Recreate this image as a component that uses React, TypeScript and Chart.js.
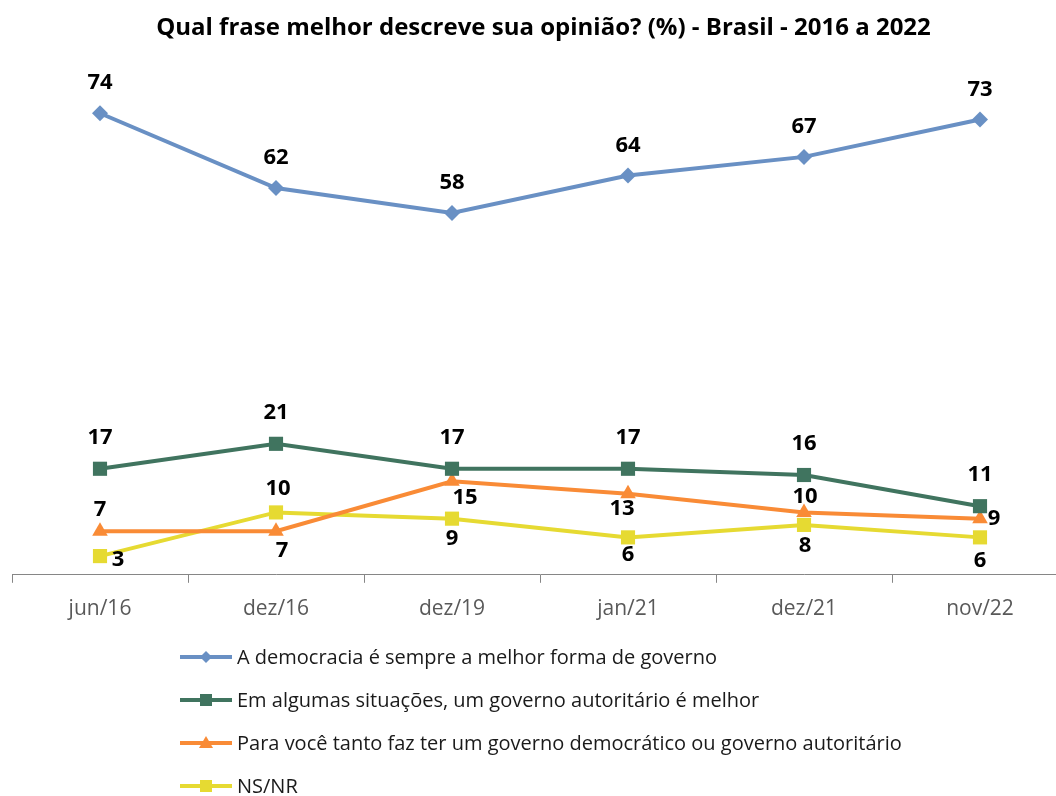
import React, { useEffect, useRef } from "react";
import { Chart, registerables } from "chart.js";

Chart.register(...registerables);

const chartTitle = "Qual frase melhor descreve sua opinião? (%) - Brasil - 2016 a 2022";
const categories = ["jun/16", "dez/16", "dez/19", "jan/21", "dez/21", "nov/22"];
const seriesNames = [
  "A democracia é sempre a melhor forma de governo",
  "Em algumas situações, um governo autoritário é melhor",
  "Para você tanto faz ter um governo democrático ou governo autoritário",
  "NS/NR",
];
const democracia = [74, 62, 58, 64, 67, 73];
const autoritario = [17, 21, 17, 17, 16, 11];
const tantoFaz = [7, 7, 15, 13, 10, 9];
const nsnr = [3, 10, 9, 6, 8, 6];
const yMin = 0;
const yMax = 80;

// label offsets (dx, dy) relative to each point
const offDemocracia = [[0, -30], [0, -30], [0, -30], [0, -30], [0, -30], [0, -30]];
const offAutoritario = [[0, -31], [0, -31], [0, -31], [0, -31], [0, -31], [0, -31]];
const offTantoFaz = [[0, -21], [6, 20], [13, 16], [-6, 15], [1, -16], [14, 0]];
const offNsnr = [[18, 4], [2, -24], [0, 20], [0, 17], [1, 21], [0, 23]];

const colors = ["#6990C4", "#40745F", "#F98B36", "#E6DA32"];
const pointStyles = ["rectRot", "rect", "triangle", "rect"];
const pointRadii = [8, 10, 9, 10];

const FONT = "'Open Sans', Lato, sans-serif";

const valueLabels = {
  id: "valueLabels",
  afterDatasetsDraw(chart: any) {
    const ctx = chart.ctx;
    ctx.save();
    ctx.font = `bold 22px ${FONT}`;
    ctx.fillStyle = "#000000";
    ctx.textAlign = "center";
    ctx.textBaseline = "middle";
    chart.data.datasets.forEach((ds: any, i: number) => {
      const meta = chart.getDatasetMeta(i);
      meta.data.forEach((pt: any, j: number) => {
        const [dx, dy] = ds.labelOffsets[j];
        ctx.fillText(String(ds.data[j]), pt.x + dx, pt.y + dy);
      });
    });
    ctx.restore();
  },
};

function Marker({ idx }: { idx: number }) {
  const c = colors[idx];
  let shape: any = null;
  if (pointStyles[idx] === "rectRot") {
    shape = <polygon points="26,2 32,8 26,14 20,8" fill={c} />;
  } else if (pointStyles[idx] === "triangle") {
    shape = <polygon points="26,1 33,13 19,13" fill={c} />;
  } else {
    shape = <rect x={20} y={2} width={12} height={12} fill={c} />;
  }
  return (
    <svg width={52} height={16} style={{ display: "block", flex: "none" }}>
      <line x1={0} y1={8} x2={52} y2={8} stroke={c} strokeWidth={4} strokeLinecap="round" />
      {shape}
    </svg>
  );
}

export default function App() {
  const ref = useRef<HTMLCanvasElement | null>(null);

  useEffect(() => {
    if (!ref.current) return;
    const dataArrays = [democracia, autoritario, tantoFaz, nsnr];
    const offsets = [offDemocracia, offAutoritario, offTantoFaz, offNsnr];
    const chart = new Chart(ref.current, {
      type: "line",
      data: {
        labels: categories,
        datasets: dataArrays.map((d, i) => ({
          label: seriesNames[i],
          data: d,
          borderColor: colors[i],
          backgroundColor: colors[i],
          borderWidth: 4,
          pointStyle: pointStyles[i] as any,
          pointRadius: pointRadii[i],
          pointBorderWidth: 0,
          pointBackgroundColor: colors[i],
          tension: 0,
          clip: false as any,
          labelOffsets: offsets[i],
        })) as any,
      },
      options: {
        responsive: false,
        animation: false,
        devicePixelRatio: 1,
        layout: { padding: { left: 12, right: 3, top: 0, bottom: 160 } },
        plugins: {
          legend: { display: false },
          tooltip: { enabled: false },
          title: {
            display: true,
            text: chartTitle,
            color: "#000000",
            font: { family: FONT, size: 24, weight: "bold" },
            padding: { top: 14, bottom: 33 },
          },
        },
        scales: {
          x: {
            type: "category",
            offset: true,
            grid: {
              offset: true,
              drawOnChartArea: false,
              drawTicks: true,
              tickLength: 8,
              color: "#868686",
              lineWidth: 1,
            },
            border: { display: true, color: "#868686", width: 1 },
            ticks: {
              color: "#595959",
              font: { family: FONT, size: 21 },
              padding: 14,
            },
          },
          y: {
            display: false,
            min: yMin,
            max: yMax,
          },
        },
      },
      plugins: [valueLabels],
    });
    return () => chart.destroy();
  }, []);

  return (
    <div
      style={{
        position: "absolute",
        left: 0,
        top: 0,
        width: 1056,
        height: 796,
        overflow: "hidden",
        background: "#ffffff",
      }}
    >
      <canvas ref={ref} width={1078} height={796} style={{ position: "absolute", left: 0, top: 0 }} />
      <div style={{ position: "absolute", left: 180, top: 635 }}>
        {seriesNames.map((name, i) => (
          <div
            key={name}
            style={{
              display: "flex",
              alignItems: "center",
              height: 43,
              fontFamily: FONT,
              fontSize: 20,
              color: "#1a1a1a",
              whiteSpace: "nowrap",
            }}
          >
            <Marker idx={i} />
            <span style={{ marginLeft: 5 }}>{name}</span>
          </div>
        ))}
      </div>
    </div>
  );
}
